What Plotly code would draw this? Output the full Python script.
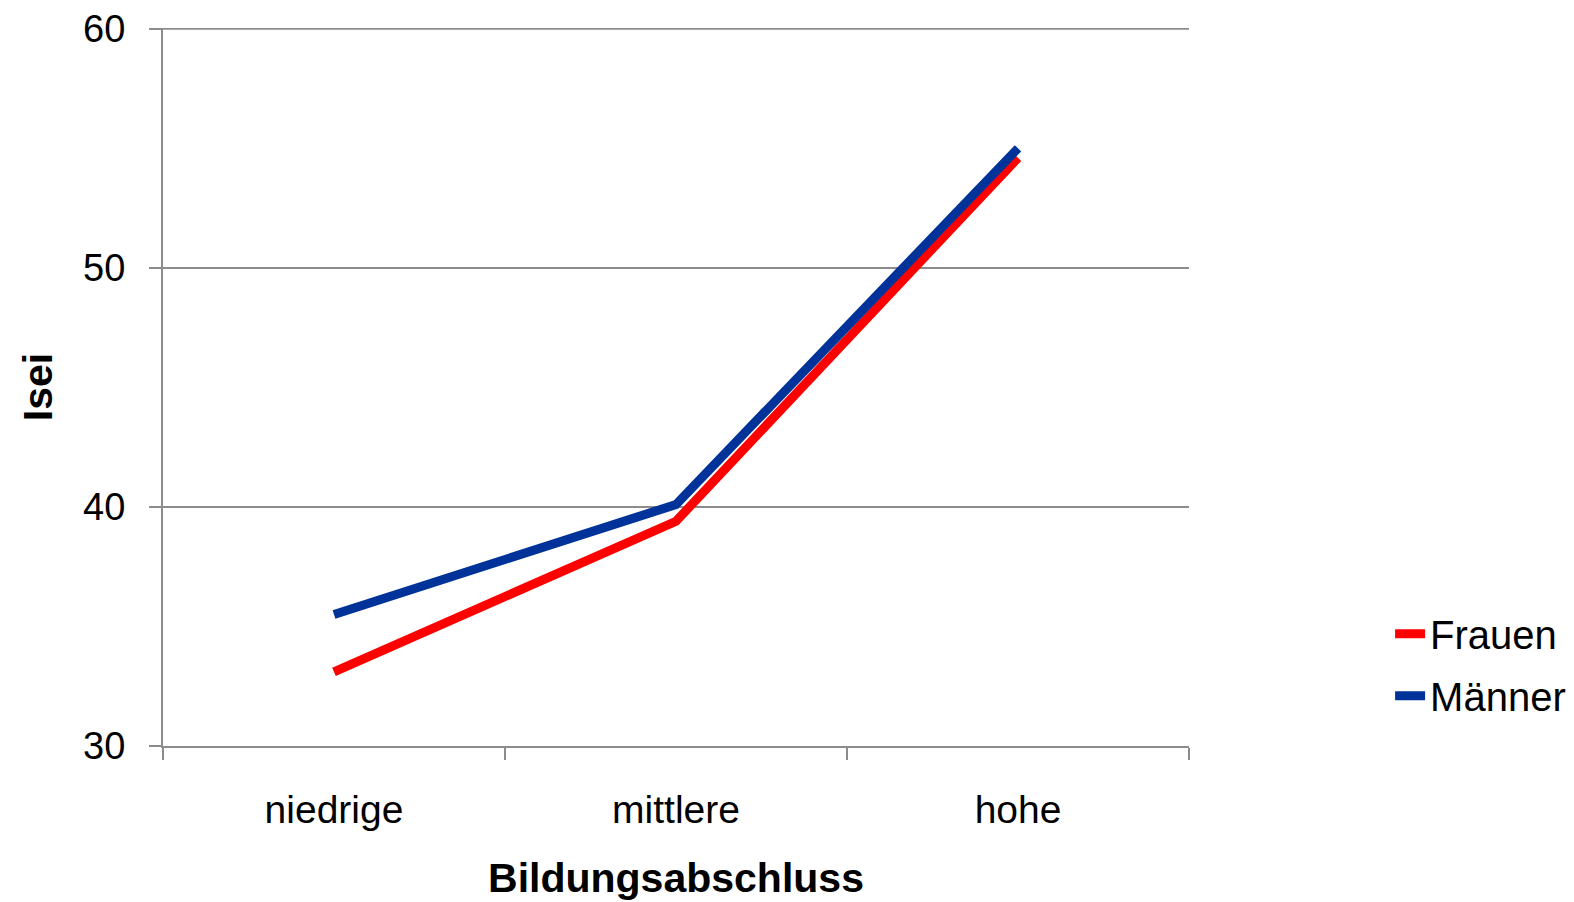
import plotly.graph_objects as go

categories = ["niedrige", "mittlere", "hohe"]
frauen = [33.1, 39.4, 54.6]
maenner = [35.5, 40.1, 55.0]
y_ticks = [30, 40, 50, 60]

FONT = "Liberation Sans, Arial, sans-serif"
GRID = "#8c8c8c"

fig = go.Figure()
fig.add_trace(go.Scatter(x=categories, y=frauen, name="Frauen", mode="lines",
                         legendgroup="f",
                         line=dict(color="#ff0000", width=9)))
fig.add_trace(go.Scatter(x=categories, y=maenner, name="Männer", mode="lines",
                         legendgroup="m",
                         line=dict(color="#003399", width=9)))

# top gridline (plotly omits the grid line at the very edge of the range)
fig.add_shape(type="line", xref="paper", yref="y", x0=0, x1=1,
              y0=y_ticks[-1], y1=y_ticks[-1], layer="below",
              line=dict(color=GRID, width=2))

fig.update_layout(
    width=1566, height=894,
    margin=dict(l=155, r=385, t=20, b=156, autoexpand=False),
    paper_bgcolor="white", plot_bgcolor="white",
    font=dict(family=FONT, color="black"),
    showlegend=True,
    legend=dict(x=1.196, xanchor="left", y=0.113, yanchor="middle",
                font=dict(size=40, family=FONT), bgcolor="rgba(0,0,0,0)",
                itemwidth=30, tracegroupgap=7),
    xaxis=dict(
        type="category", range=[-0.5, 2.5],
        showline=True, linecolor=GRID, linewidth=2,
        ticks="outside", tickson="boundaries", ticklen=12, tickcolor=GRID, tickwidth=2,
        showgrid=False, tickfont=dict(size=39, family=FONT), ticklabelstandoff=28,
        title=dict(text="<b>Bildungsabschluss</b>", font=dict(size=41, family=FONT), standoff=34),
        automargin=False, ticklabeloverflow="allow",
    ),
    yaxis=dict(
        range=[30, 60.03], tickvals=y_ticks,
        showline=True, linecolor=GRID, linewidth=2,
        ticks="outside", ticklen=12, tickcolor=GRID, tickwidth=2,
        showgrid=True, gridcolor=GRID, gridwidth=2, zeroline=False,
        tickfont=dict(size=38, family=FONT), ticklabelstandoff=16,
        title=dict(text="<b>Isei</b>", font=dict(size=41, family=FONT), standoff=18),
        automargin=False, ticklabeloverflow="allow",
    ),
)

fig.write_html("out.html")
